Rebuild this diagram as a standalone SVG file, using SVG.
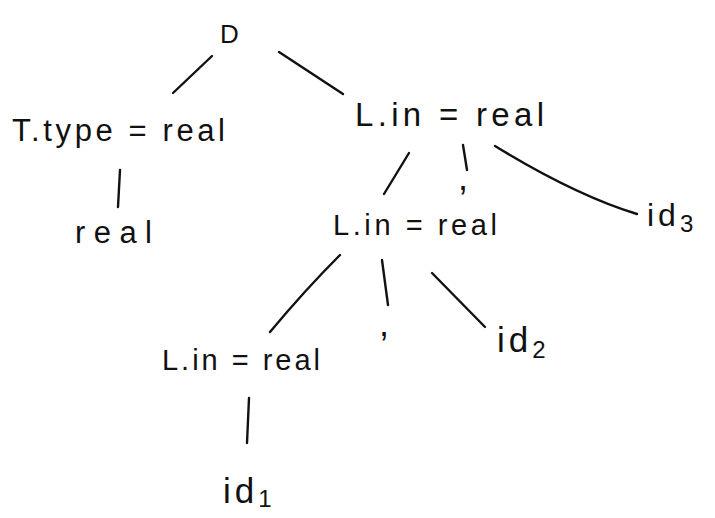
<svg xmlns="http://www.w3.org/2000/svg" width="715" height="518" viewBox="0 0 715 518">
  <style>
    .bg { fill: #ffffff; }
    .lbl { font-family: "Liberation Sans", "DejaVu Sans", sans-serif; fill: #111111; }
    .edge { stroke: #111111; stroke-width: 2.4; fill: none; stroke-linecap: round; }
  </style>
  <rect class="bg" x="0" y="0" width="715" height="518"/>

  <!-- tree edges -->
  <g id="connectors">
    <path class="edge" d="M212,56 L173,93"/>
    <path class="edge" d="M279,52 L343,94"/>
    <path class="edge" d="M120,170 L118,207"/>
    <path class="edge" d="M409,153 L384,194"/>
    <path class="edge" d="M463,145 L467,170"/>
    <path class="edge" d="M495,146 Q575,195 637,214"/>
    <path class="edge" d="M340,255 Q305,290 270,332"/>
    <path class="edge" d="M382,260 L388,305"/>
    <path class="edge" d="M432,273 L485,327"/>
    <path class="edge" d="M249,398 L247,443"/>
  </g>

  <!-- root -->
  <g id="node-D">
    <text class="lbl" x="220" y="43" font-size="26">D</text>
  </g>

  <!-- type branch -->
  <g id="node-T">
    <text class="lbl" x="12" y="141" font-size="31" textLength="213" lengthAdjust="spacing">T.type = real</text>
  </g>
  <g id="node-real">
    <text class="lbl" x="75" y="243" font-size="31" textLength="77" lengthAdjust="spacing">real</text>
  </g>

  <!-- list branch -->
  <g id="node-L1">
    <text class="lbl" x="355" y="126" font-size="33" textLength="189" lengthAdjust="spacing">L.in = real</text>
  </g>
  <g id="node-comma1">
    <text class="lbl" x="458" y="190" font-size="36">,</text>
  </g>
  <g id="node-id3">
    <text class="lbl" x="647" y="226" font-size="32" letter-spacing="4">id<tspan font-size="24" dy="6">3</tspan></text>
  </g>

  <g id="node-L2">
    <text class="lbl" x="333" y="235" font-size="29" textLength="164" lengthAdjust="spacing">L.in = real</text>
  </g>
  <g id="node-comma2">
    <text class="lbl" x="379" y="336" font-size="36">,</text>
  </g>
  <g id="node-id2">
    <text class="lbl" x="497" y="352" font-size="35" letter-spacing="4">id<tspan font-size="24" dy="6">2</tspan></text>
  </g>

  <g id="node-L3">
    <text class="lbl" x="162" y="370" font-size="29" textLength="158" lengthAdjust="spacing">L.in = real</text>
  </g>
  <g id="node-id1">
    <text class="lbl" x="223" y="503" font-size="35" letter-spacing="4">id<tspan font-size="24" dy="4">1</tspan></text>
  </g>
</svg>
